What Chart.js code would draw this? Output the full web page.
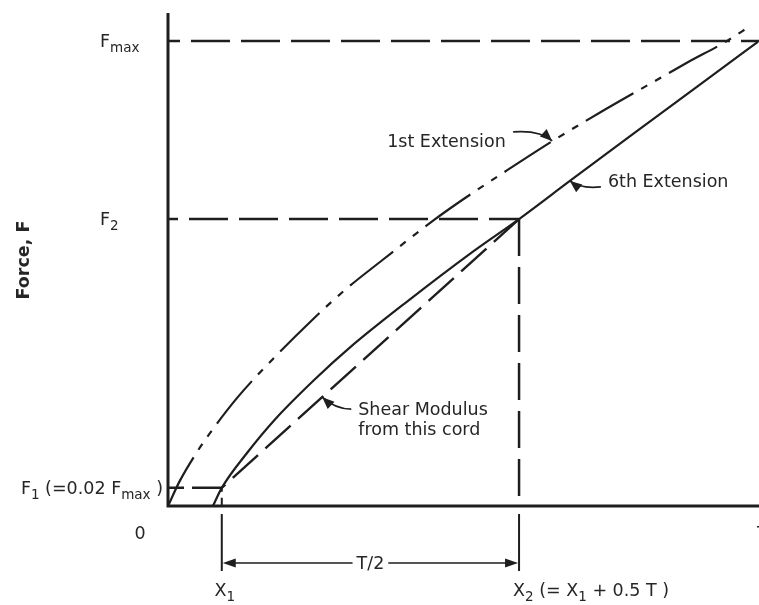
<!DOCTYPE html>
<html>
<head>
<meta charset="utf-8">
<script src="https://cdn.jsdelivr.net/npm/chart.js@4.4.1/dist/chart.umd.min.js"></script>
<style>
  html, body { margin: 0; padding: 0; background: #fff; }
  #wrap { width: 759px; height: 605px; position: relative; }
</style>
</head>
<body>
<div id="wrap"><canvas id="forceChart"></canvas></div>
<script>
// * data (x = extension, y = force, Fmax = 100)
const firstExtX = [0, 2.0, 5.1, 6.6, 11.8, 17.6, 24.4, 29.9, 36.4, 44.8, 49.9, 57.4, 65.1, 73.1, 81.6, 87.8, 94.6, 98.5];
const firstExtY = [0, 5.4, 12.0, 14.8, 23.4, 31.4, 40.0, 46.4, 53.0, 61.3, 65.9, 72.2, 78.5, 84.6, 90.8, 95.3, 100.0, 103.2];
const sixthExtX = [7.6, 9.1, 13.5, 18.1, 24.9, 30.8, 40.4, 51.6, 59.4, 68.0, 78.7, 90.0, 99.8];
const sixthExtY = [0, 3.9, 11.6, 18.6, 27.3, 34.1, 43.9, 54.7, 61.7, 69.9, 80.0, 90.6, 99.8];
const forceLevels = [3.9, 61.7, 100]; // F1, F2, Fmax
const extensionMarks = [9.1, 59.4]; // X1, X2
const calloutX = [65.0, 68.0, 26.1];
const calloutY = [78.5, 69.9, 23.4];
const calloutText = [["1st Extension"], ["6th Extension"], ["Shear Modulus", "from this cord"]];

const INK = "#1e1e1e";
const FONT = '"DejaVu Sans", Verdana, sans-serif';

const pts = (xs, ys) => xs.map((v, i) => ({ x: v, y: ys[i] }));

const [F1, F2, FMAX] = forceLevels;
const [X1, X2] = extensionMarks;

function richText(ctx, parts, x, y, align) {
  const main = "17.5px " + FONT;
  const sub = "13.5px " + FONT;
  let w = 0;
  parts.forEach((p) => {
    ctx.font = p.sub ? sub : main;
    w += ctx.measureText(p.t).width;
  });
  let cx = align === "right" ? x - w : align === "center" ? x - w / 2 : x;
  ctx.textAlign = "left";
  ctx.textBaseline = "alphabetic";
  parts.forEach((p) => {
    ctx.font = p.sub ? sub : main;
    ctx.fillText(p.t, cx, p.sub ? y + 5 : y);
    cx += ctx.measureText(p.t).width;
  });
}

function arrowHead(ctx, tx, ty, fx, fy, len, half) {
  const a = Math.atan2(ty - fy, tx - fx);
  ctx.beginPath();
  ctx.moveTo(tx, ty);
  ctx.lineTo(tx - len * Math.cos(a) + half * Math.sin(a), ty - len * Math.sin(a) - half * Math.cos(a));
  ctx.lineTo(tx - len * Math.cos(a) - half * Math.sin(a), ty - len * Math.sin(a) + half * Math.cos(a));
  ctx.closePath();
  ctx.fill();
}

const diagramPlugin = {
  id: "diagram",
  afterDatasetsDraw(chart) {
    const { ctx, chartArea: a, scales } = chart;
    const sx = scales.x, sy = scales.y;
    ctx.save();
    ctx.strokeStyle = INK;
    ctx.fillStyle = INK;

    // * axes
    ctx.lineWidth = 3;
    ctx.beginPath();
    ctx.moveTo(a.left, a.top);
    ctx.lineTo(a.left, a.bottom);
    ctx.lineTo(a.right, a.bottom);
    ctx.stroke();

    // * force labels
    ctx.fillStyle = "#262626";
    richText(ctx, [{ t: "F" }, { t: "max", sub: true }], a.left - 68, sy.getPixelForValue(FMAX) + 6, "left");
    richText(ctx, [{ t: "F" }, { t: "2", sub: true }], a.left - 68, sy.getPixelForValue(F2) + 6, "left");
    richText(ctx, [{ t: "F" }, { t: "1", sub: true }, { t: " (=0.02 F" }, { t: "max", sub: true }, { t: " )" }],
      a.left - 5, sy.getPixelForValue(F1) + 6, "right");
    richText(ctx, [{ t: "0" }], a.left - 28, a.bottom + 33, "center");
    richText(ctx, [{ t: "T" }], a.right - 2, a.bottom + 33, "left");

    // * extension labels + dimension line
    const px1 = sx.getPixelForValue(X1), px2 = sx.getPixelForValue(X2);
    richText(ctx, [{ t: "X" }, { t: "1", sub: true }], px1 + 3, a.bottom + 90, "center");
    richText(ctx, [{ t: "X" }, { t: "2", sub: true }, { t: " (= X" }, { t: "1", sub: true }, { t: " + 0.5 T )" }],
      px2 - 6, a.bottom + 90, "left");

    ctx.fillStyle = INK;
    ctx.lineWidth = 2;
    const top = a.bottom + 8, bot = a.bottom + 65, dimY = a.bottom + 57;
    ctx.beginPath();
    ctx.moveTo(px1, top); ctx.lineTo(px1, bot);
    ctx.moveTo(px2, top); ctx.lineTo(px2, bot);
    ctx.stroke();
    const mid = (px1 + px2) / 2;
    ctx.font = "17.5px " + FONT;
    const tw = ctx.measureText("T/2").width;
    ctx.lineWidth = 1.6;
    ctx.beginPath();
    ctx.moveTo(px1 + 8, dimY); ctx.lineTo(mid - tw / 2 - 4, dimY);
    ctx.moveTo(mid + tw / 2 + 4, dimY); ctx.lineTo(px2 - 8, dimY);
    ctx.stroke();
    arrowHead(ctx, px1 + 1, dimY, px1 + 20, dimY, 13, 4.5);
    arrowHead(ctx, px2 - 1, dimY, px2 - 20, dimY, 13, 4.5);
    ctx.fillStyle = "#262626";
    ctx.textAlign = "center";
    ctx.textBaseline = "middle";
    ctx.fillText("T/2", mid, dimY + 1);

    // * y axis title
    ctx.save();
    ctx.translate(24, 260);
    ctx.rotate(-Math.PI / 2);
    ctx.font = "bold 17.5px " + FONT;
    ctx.fillText("Force, F", 0, 0);
    ctx.restore();

    // * callouts with curved leaders
    const leaders = [
      { s: [-39, -9], c: [-12, -11], t: [-165, 0] },
      { s: [31, 6], c: [10, 8], t: [38, 0] },
      { s: [29, 12], c: [13, 12], t: [36, 12] },
    ];
    calloutText.forEach((lines, i) => {
      const tx = sx.getPixelForValue(calloutX[i]);
      const ty = sy.getPixelForValue(calloutY[i]);
      const L = leaders[i];
      ctx.strokeStyle = INK;
      ctx.fillStyle = INK;
      ctx.lineWidth = 1.8;
      ctx.beginPath();
      ctx.moveTo(tx + L.s[0], ty + L.s[1]);
      ctx.quadraticCurveTo(tx + L.c[0], ty + L.c[1], tx, ty);
      ctx.stroke();
      arrowHead(ctx, tx, ty, tx + L.c[0], ty + L.c[1], 12, 5);
      ctx.fillStyle = "#262626";
      lines.forEach((ln, k) => {
        richText(ctx, [{ t: ln }], tx + L.t[0], ty + L.t[1] + 6 + k * 20, "left");
      });
    });
    ctx.restore();
  },
};

window.addEventListener("DOMContentLoaded", () => {
  const base = { borderColor: INK, pointRadius: 0, fill: false };

  const data = {
    datasets: [
      {
        ...base,
        label: "1st Extension",
        data: pts(firstExtX, firstExtY),
        borderWidth: 2.2,
        borderDash: [55, 9, 7, 9, 7, 9],
        cubicInterpolationMode: "monotone",
      },
      {
        ...base,
        label: "6th Extension",
        data: pts(sixthExtX, sixthExtY),
        borderWidth: 2.2,
        cubicInterpolationMode: "monotone",
      },
      {
        ...base,
        label: "Chord",
        data: pts([X2, X1], [F2, F1]),
        borderWidth: 2.4,
        borderDash: [34, 10],
      },
      {
        ...base,
        label: "Fmax",
        data: pts([0, 100], [FMAX, FMAX]),
        borderWidth: 2.5,
        borderDash: [39, 11],
        borderDashOffset: 27,
      },
      {
        ...base,
        label: "F2",
        data: pts([0, X2], [F2, F2]),
        borderWidth: 2.5,
        borderDash: [39, 11],
        borderDashOffset: 29,
      },
      {
        ...base,
        label: "F1",
        data: pts([0, X1], [F1, F1]),
        borderWidth: 2.5,
        borderDash: [16, 8, 39, 11],
      },
      {
        ...base,
        label: "X2",
        data: pts([X2, X2], [F2, 0]),
        borderWidth: 2.5,
        borderDash: [37, 11],
      },
      {
        ...base,
        label: "X1",
        data: pts([X1, X1], [F1, 0]),
        borderWidth: 2,
        borderDash: [4, 6, 10, 4],
      },
    ],
  };

  const config = {
    type: "line",
    data: data,
    options: {
      responsive: true,
      maintainAspectRatio: false,
      animation: false,
      layout: { padding: { left: 168, top: 13, right: 0, bottom: 99 } },
      plugins: {
        legend: { display: false },
        tooltip: { enabled: false },
      },
      scales: {
        x: { type: "linear", min: 0, max: 100, display: false },
        y: { type: "linear", min: 0, max: 106, display: false },
      },
    },
    plugins: [diagramPlugin],
  };

  const ctx = document.getElementById("forceChart").getContext("2d");
  new Chart(ctx, config);
});
</script>
</body>
</html>
